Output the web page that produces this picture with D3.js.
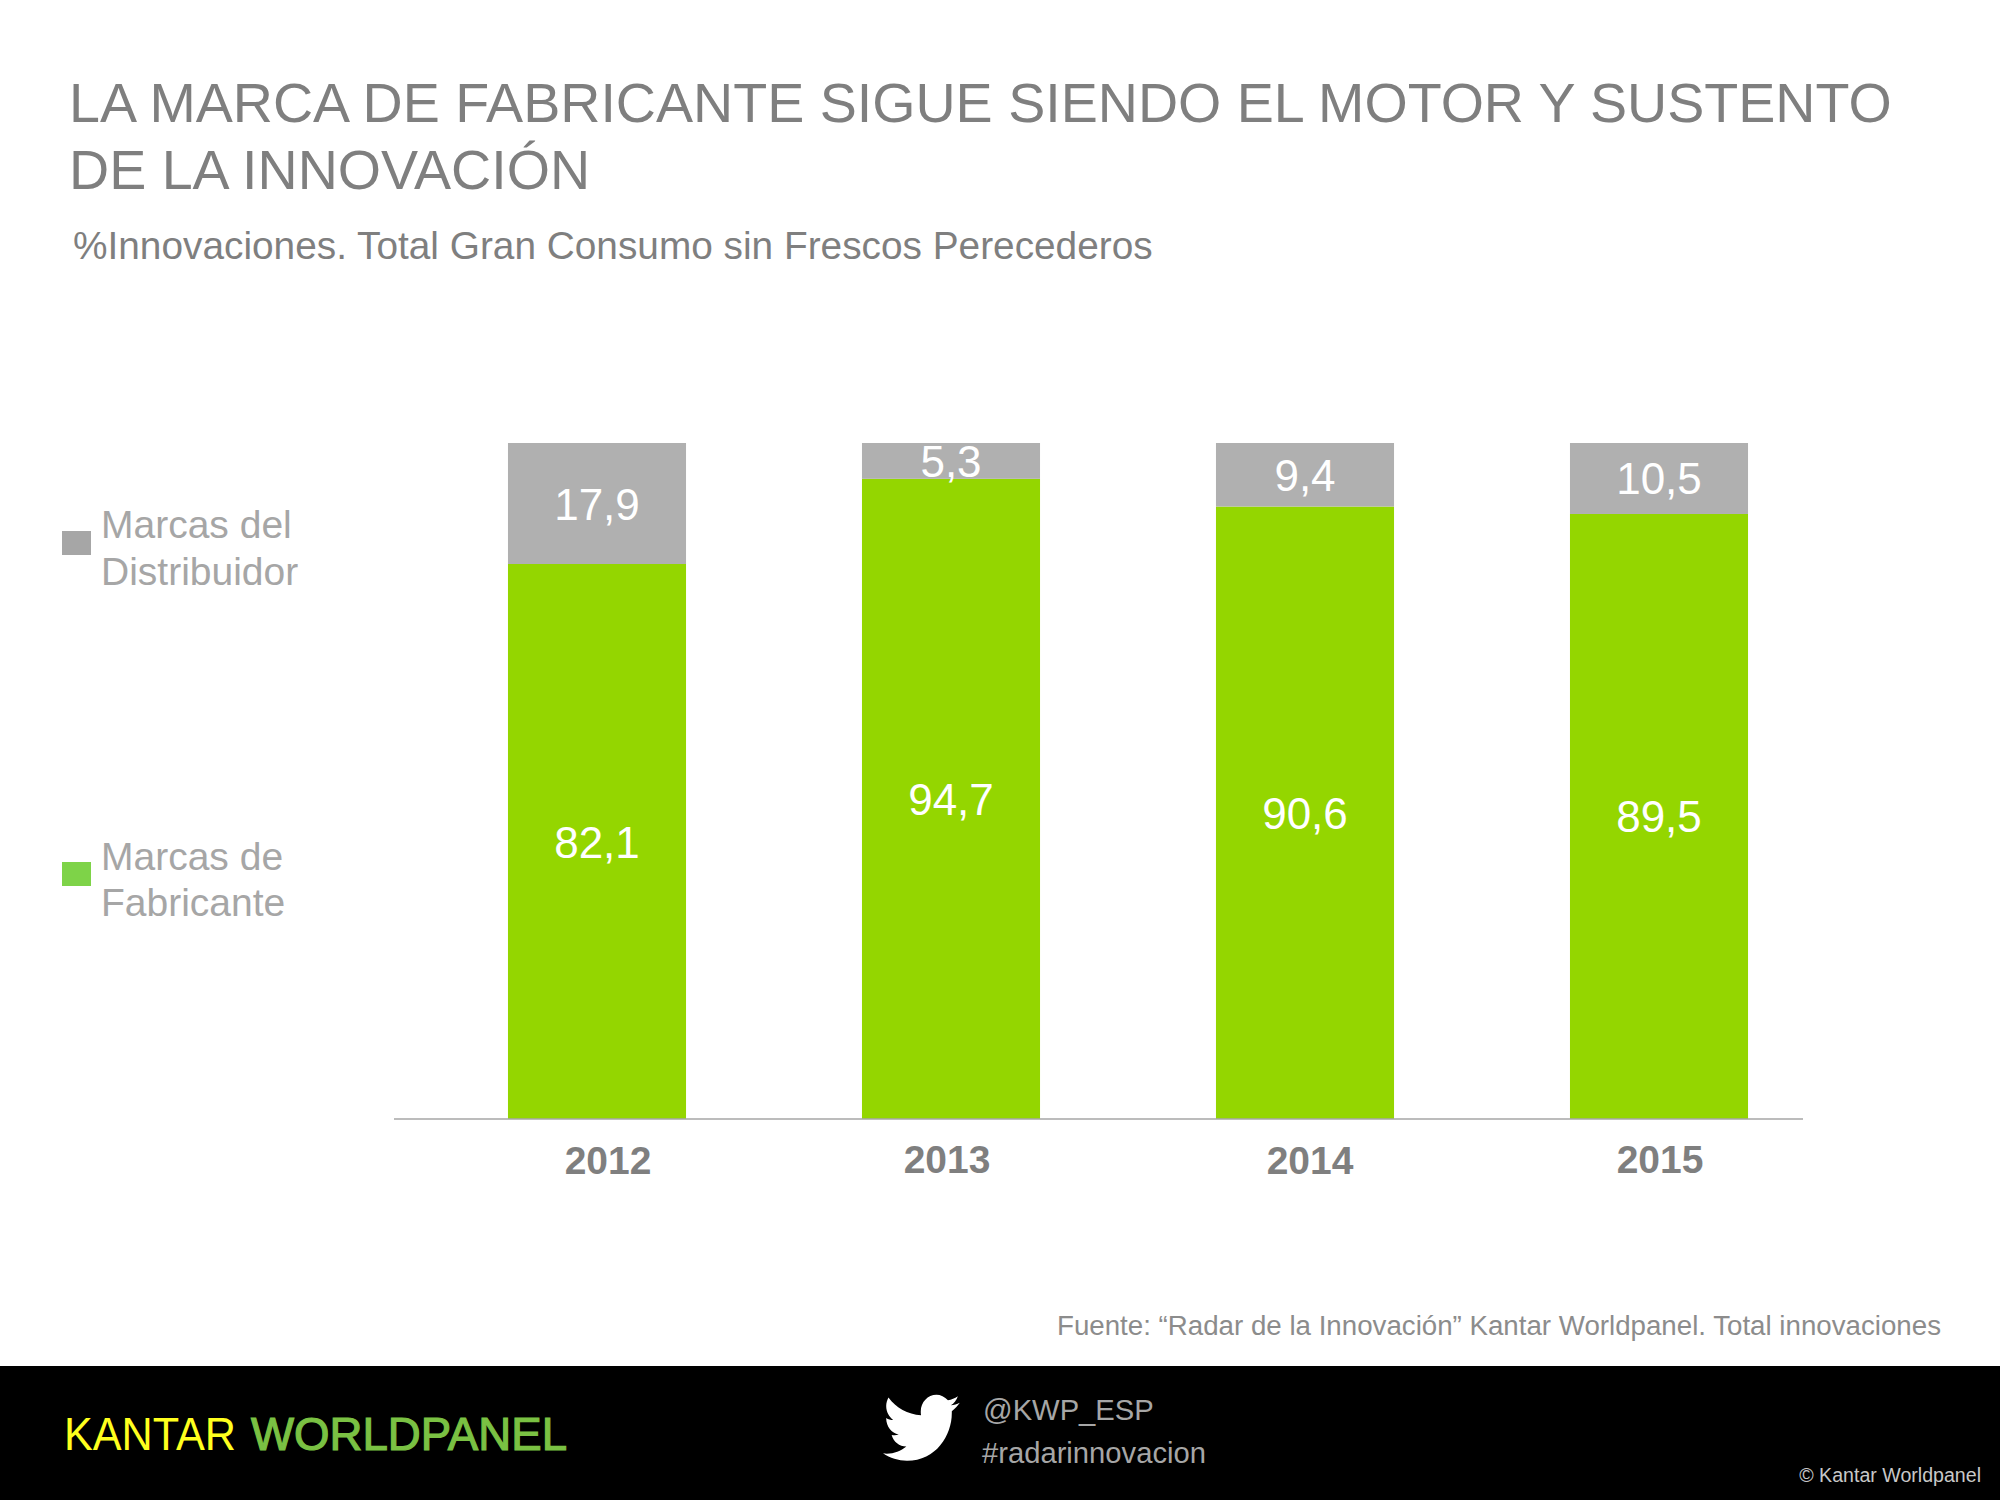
<!DOCTYPE html>
<html><head><meta charset="utf-8"><script src="https://cdn.jsdelivr.net/npm/d3@7/dist/d3.min.js"></script>
<style>html,body{margin:0;padding:0;background:#fff}svg{display:block}text{font-family:"Liberation Sans",Arial,sans-serif}</style></head>
<body><svg id="c" width="2000" height="1500"></svg>
<script>
const years = ["2012","2013","2014","2015"];
const fabricante = [82.1,94.7,90.6,89.5];
const distribuidor = [17.9,5.3,9.4,10.5];
const fabricanteLabels = ["82,1","94,7","90,6","89,5"];
const distribuidorLabels = ["17,9","5,3","9,4","10,5"];
const titleLines = ["LA MARCA DE FABRICANTE SIGUE SIENDO EL MOTOR Y SUSTENTO","DE LA INNOVACIÓN"];
const subtitle = "%Innovaciones. Total Gran Consumo sin Frescos Perecederos";
const source = "Fuente: “Radar de la Innovación” Kantar Worldpanel. Total innovaciones";

const svg = d3.select("#c");
const x = d3.scaleBand().domain(years).range([420,1836]).paddingInner(0.497).paddingOuter(0.2485);
const y = d3.scaleLinear().domain([0,100]).range([1119,443]);
const GREEN="#94d600", GREY="#b0b0b0";

svg.append("rect").attr("width",2000).attr("height",1500).attr("fill","#fff");
const title = svg.append("g").attr("fill","#7f7f7f").attr("font-size",55.6);
titleLines.forEach((t,i)=>title.append("text").attr("x",69).attr("y",122+i*67).text(t));
svg.append("text").attr("x",73).attr("y",259).attr("fill","#7f7f7f").attr("font-size",38.8).text(subtitle);

const stack = d3.stack().keys(["f","d"])(years.map((yr,i)=>({yr,f:fabricante[i],d:distribuidor[i]})));
const colors=[GREEN,GREY], labels=[fabricanteLabels,distribuidorLabels];
stack.forEach((s,k)=>{
  svg.append("g").selectAll("rect").data(s).join("rect")
    .attr("x",d=>x(d.data.yr)).attr("width",x.bandwidth())
    .attr("y",d=>y(d[1])).attr("height",d=>y(d[0])-y(d[1])).attr("fill",colors[k]);
  svg.append("g").selectAll("text").data(s).join("text")
    .attr("x",d=>x(d.data.yr)+x.bandwidth()/2).attr("y",d=>(y(d[0])+y(d[1]))/2+16)
    .attr("text-anchor","middle").attr("fill","#fff").attr("font-size",44)
    .text((d,i)=>labels[k][i]);
});
svg.append("line").attr("x1",394).attr("x2",1803).attr("y1",1119).attr("y2",1119).attr("stroke","#a6a6a6").attr("stroke-width",1.5);

// category labels sit slightly off-centre and at varying heights in the reference
const tickDx=[11,-4,5,1], tickDy=[0,-1,0,-1];
const axis = d3.axisBottom(x).tickSize(0).tickPadding(0);
const ag = svg.append("g").attr("transform","translate(0,1119)").call(axis);
ag.select(".domain").remove();
ag.selectAll("text").attr("y",null).attr("dy",null)
  .attr("transform",(d,i)=>`translate(${tickDx[i]},${55+tickDy[i]})`)
  .attr("fill","#7f7f7f").attr("font-size",39).attr("font-weight","bold")
  .style("font-family",'"Liberation Sans",Arial,sans-serif');

// legend
const legend=[{c:"#a6a6a6",y:531,l:["Marcas del","Distribuidor"],ty:[538,585]},{c:"#7ed348",y:862,l:["Marcas de","Fabricante"],ty:[870,916]}];
legend.forEach(d=>{
  svg.append("rect").attr("x",62).attr("y",d.y).attr("width",29).attr("height",24).attr("fill",d.c);
  d.l.forEach((t,i)=>svg.append("text").attr("x",101).attr("y",d.ty[i]).attr("fill","#a6a6a6").attr("font-size",39).text(t));
});

svg.append("text").attr("x",1941).attr("y",1335).attr("text-anchor","end").attr("fill","#8c8c8c").attr("font-size",27.7).text(source);

// footer
svg.append("rect").attr("y",1366).attr("width",2000).attr("height",134).attr("fill","#000");
svg.append("text").attr("x",64).attr("y",1450).attr("font-size",46).attr("fill","#ffff1e").attr("textLength",172).attr("lengthAdjust","spacingAndGlyphs").text("KANTAR");
svg.append("text").attr("x",251).attr("y",1450).attr("font-size",46).attr("fill","#7ac143").attr("stroke","#7ac143").attr("stroke-width",1.2).attr("textLength",316).attr("lengthAdjust","spacingAndGlyphs").text("WORLDPANEL");
svg.append("path").attr("transform","translate(883,1387) scale(3.2,3.4)")
 .attr("d","M24 4.6c-.9.4-1.8.7-2.8.8 1-.6 1.8-1.6 2.2-2.7-1 .6-2 1-3.1 1.2C19.3 2.9 18 2.3 16.7 2.3c-2.7 0-4.9 2.2-4.9 4.9 0 .4 0 .8.1 1.1C7.7 8.1 4.1 6.1 1.7 3.1c-.4.7-.7 1.6-.7 2.5 0 1.7.9 3.2 2.2 4.1-.8 0-1.6-.2-2.2-.6v.1c0 2.4 1.7 4.4 3.9 4.8-.4.1-.8.2-1.3.2-.3 0-.6 0-.9-.1.6 2 2.4 3.4 4.6 3.4-1.7 1.3-3.8 2.1-6.1 2.1-.4 0-.8 0-1.2-.1 2.2 1.4 4.8 2.2 7.5 2.2 9.1 0 14-7.5 14-14v-.6c1-.7 1.8-1.6 2.5-2.5z")
 .attr("fill","#fff");
svg.append("text").attr("x",983).attr("y",1420).attr("fill","#a6a6a6").attr("font-size",29.2).text("@KWP_ESP");
svg.append("text").attr("x",982).attr("y",1463).attr("fill","#a6a6a6").attr("font-size",29.2).text("#radarinnovacion");
svg.append("text").attr("x",1981).attr("y",1482).attr("text-anchor","end").attr("fill","#c8c8c8").attr("font-size",19.6).text("© Kantar Worldpanel");
</script></body></html>
